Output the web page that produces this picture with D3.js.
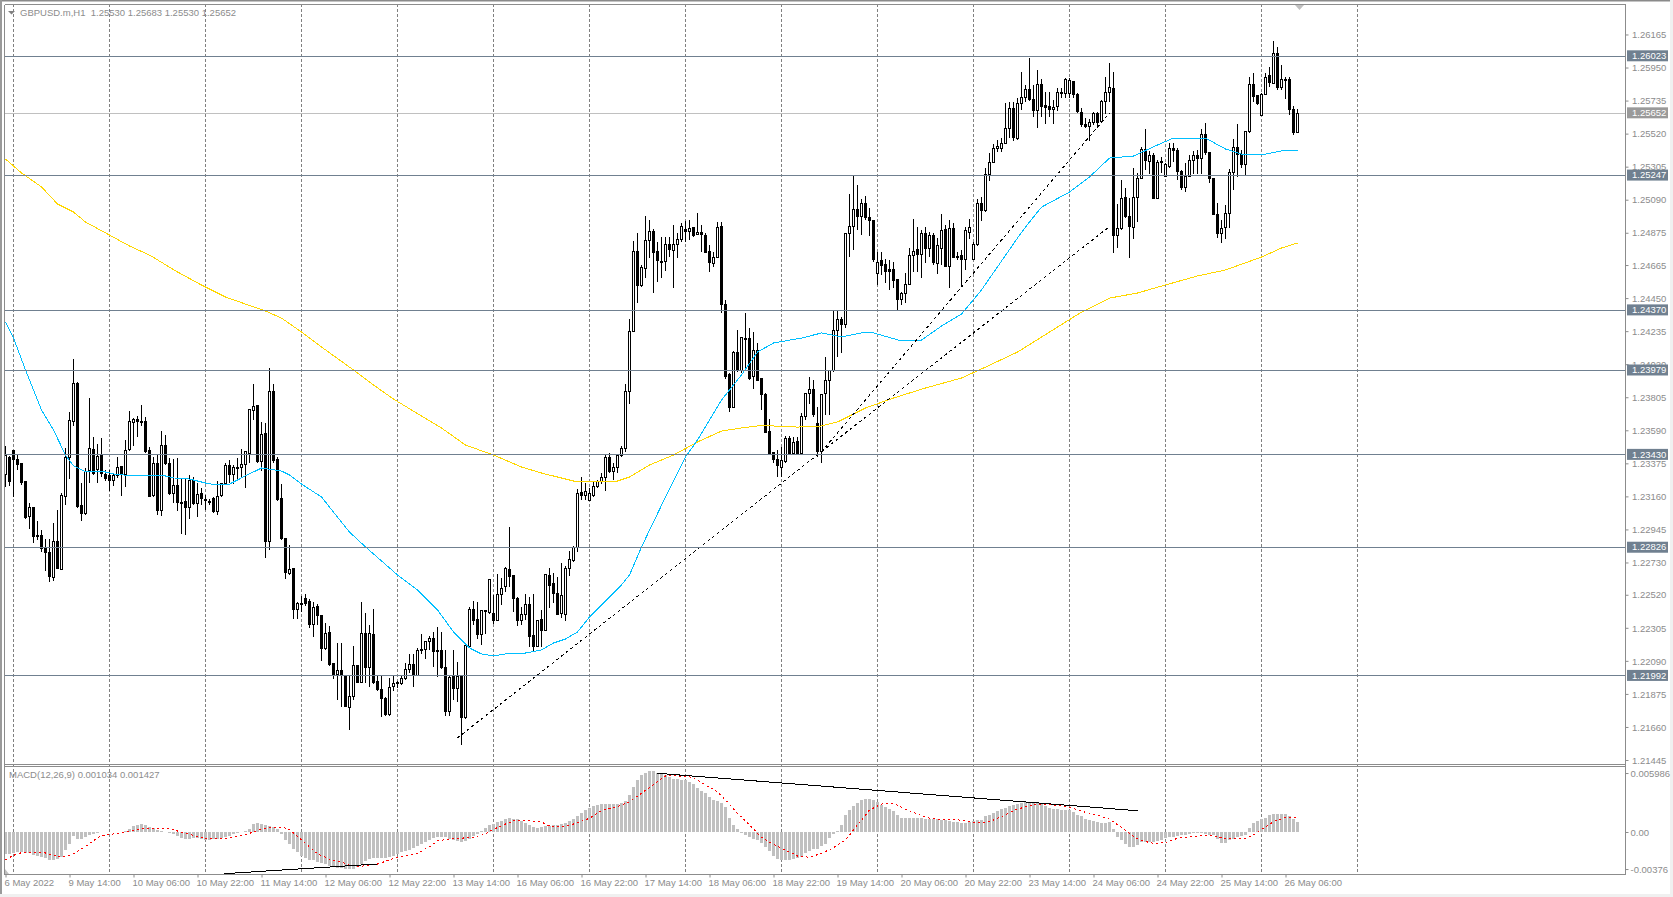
<!DOCTYPE html>
<html>
<head>
<meta charset="utf-8">
<script src="https://cdn.jsdelivr.net/npm/d3@7"></script>
<style>
  html, body { margin: 0; padding: 0; background: #fff; overflow: hidden; }
  svg { display: block; }
  text { font-family: "Liberation Sans", Arial, sans-serif; font-size: 9.5px; fill: #8c8c8c; }
</style>
</head>
<body>
<div id="chart-area"></div>
<script>
// hourly bars
var opens = [1.23304,1.23415,1.23456,1.23402,1.23372,1.23255,1.23029,1.23090,1.22903,1.22903,
1.22823,1.22797,1.22635,1.22869,1.22687,1.23159,1.23411,1.23647,1.23896,1.23103,
1.23046,1.23328,1.23467,1.23337,1.23424,1.23304,1.23294,1.23263,1.23294,1.23354,
1.23300,1.23463,1.23643,1.23662,1.23649,1.23645,1.23456,1.23163,1.23372,1.23068,
1.23489,1.23376,1.23177,1.23229,1.23122,1.23125,1.23088,1.23263,1.23111,1.23177,
1.23142,1.23129,1.23146,1.23062,1.23166,1.23242,1.23363,1.23300,1.23350,1.23350,
1.23369,1.23437,1.23719,1.23749,1.23387,1.23567,1.22867,1.23840,1.23398,1.23144,
1.22888,1.22660,1.22689,1.22422,1.22465,1.22498,1.22476,1.22325,1.22444,1.22387,
1.22171,1.22277,1.22075,1.21999,1.22030,1.21993,1.21789,1.21858,1.22058,1.21949,
1.22270,1.22049,1.22264,1.21954,1.21906,1.21848,1.21739,1.21923,1.21949,1.21941,
1.21973,1.22036,1.22069,1.21993,1.22166,1.22162,1.22216,1.22238,1.22155,1.22158,
1.22049,1.21760,1.21988,1.21908,1.21988,1.21719,1.22183,1.22426,1.22356,1.22259,
1.22415,1.22406,1.22400,1.22352,1.22519,1.22573,1.22686,1.22643,1.22497,1.22352,
1.22393,1.22458,1.22252,1.22183,1.22356,1.22287,1.22647,1.22591,1.22530,1.22400,
1.22393,1.22692,1.22742,1.22827,1.23184,1.23169,1.23132,1.23169,1.23223,1.23256,
1.23284,1.23414,1.23321,1.23349,1.23423,1.23473,1.23841,1.24232,1.24752,1.24529,
1.24643,1.24823,1.24882,1.24756,1.24691,1.24687,1.24800,1.24758,1.24800,1.24828,
1.24897,1.24882,1.24910,1.24865,1.24878,1.24860,1.24752,1.24676,1.24715,1.24919,
1.24411,1.23950,1.23737,1.24099,1.23976,1.24186,1.24188,1.23939,1.24112,1.23924,
1.23826,1.23585,1.23447,1.23401,1.23349,1.23386,1.23538,1.23436,1.23516,1.23436,
1.23679,1.23830,1.23856,1.23635,1.23451,1.23830,1.23917,1.23978,1.24242,1.24312,
1.24281,1.24871,1.24915,1.25028,1.24980,1.25067,1.24975,1.24952,1.24607,1.24692,
1.24666,1.24633,1.24633,1.24568,1.24442,1.24477,1.24540,1.24728,1.24763,1.24731,
1.24867,1.24774,1.24854,1.24676,1.24774,1.24893,1.24655,1.24904,1.24720,1.24724,
1.24702,1.24876,1.24698,1.24796,1.25067,1.25019,1.25255,1.25333,1.25424,1.25424,
1.25457,1.25554,1.25684,1.25489,1.25717,1.25754,1.25808,1.25743,1.25669,1.25841,
1.25700,1.25695,1.25674,1.25695,1.25789,1.25782,1.25778,1.25862,1.25776,1.25658,
1.25580,1.25565,1.25591,1.25652,1.25598,1.25728,1.25789,1.25815,1.24854,1.24904,
1.25103,1.24984,1.24911,1.25106,1.25229,1.25418,1.25338,1.25375,1.25099,1.25340,
1.25240,1.25305,1.25424,1.25409,1.25273,1.25169,1.25244,1.25344,1.25375,1.25359,
1.25515,1.25396,1.25229,1.24995,1.24872,1.24911,1.25002,1.25266,1.25431,1.25385,
1.25316,1.25533,1.25841,1.25765,1.25641,1.25776,1.25901,1.25847,1.26042,1.25821,
1.25873,1.25869,1.25678,1.25530];

var highs = [1.23489,1.23424,1.23456,1.23430,1.23376,1.23257,1.23120,1.23094,1.23001,1.22942,
1.22882,1.22882,1.22986,1.23072,1.23181,1.23474,1.23708,1.24055,1.23905,1.23246,
1.23343,1.23799,1.23549,1.23502,1.23539,1.23333,1.23333,1.23311,1.23415,1.23359,
1.23528,1.23716,1.23669,1.23684,1.23755,1.23675,1.23484,1.23419,1.23430,1.23586,
1.23560,1.23408,1.23402,1.23411,1.23276,1.23272,1.23302,1.23289,1.23250,1.23213,
1.23170,1.23142,1.23159,1.23257,1.23246,1.23376,1.23398,1.23365,1.23408,1.23467,
1.23458,1.23727,1.23892,1.23749,1.23647,1.23640,1.23996,1.23892,1.23419,1.23239,
1.22888,1.22845,1.22693,1.22470,1.22509,1.22524,1.22494,1.22476,1.22461,1.22390,
1.22335,1.22318,1.22075,1.22205,1.22205,1.21999,1.21993,1.22188,1.22058,1.22472,
1.22400,1.22325,1.22426,1.21989,1.21989,1.21858,1.21978,1.21989,1.21956,1.21989,
1.22075,1.22136,1.22136,1.22173,1.22266,1.22216,1.22253,1.22277,1.22309,1.22275,
1.22158,1.22000,1.22161,1.22085,1.21988,1.22194,1.22443,1.22480,1.22476,1.22415,
1.22421,1.22617,1.22519,1.22656,1.22627,1.22699,1.22963,1.22643,1.22504,1.22443,
1.22523,1.22508,1.22523,1.22356,1.22421,1.22653,1.22692,1.22664,1.22638,1.22729,
1.22708,1.22805,1.22840,1.23206,1.23288,1.23245,1.23213,1.23256,1.23267,1.23310,
1.23429,1.23440,1.23375,1.23436,1.23488,1.23891,1.24312,1.24823,1.24871,1.24665,
1.24984,1.24958,1.24897,1.24817,1.24845,1.24845,1.24849,1.24925,1.24875,1.24936,
1.24953,1.24958,1.24914,1.25001,1.24925,1.24871,1.24795,1.24752,1.24947,1.24947,
1.24437,1.23965,1.24108,1.24242,1.24193,1.24351,1.24253,1.24232,1.24156,1.23924,
1.23830,1.23661,1.23447,1.23462,1.23483,1.23553,1.23553,1.23549,1.23544,1.23700,
1.23830,1.23939,1.23917,1.23744,1.23826,1.24069,1.23978,1.24368,1.24368,1.24329,
1.24871,1.25127,1.25244,1.25186,1.25095,1.25114,1.25034,1.24952,1.24752,1.24752,
1.24705,1.24698,1.24687,1.24568,1.24492,1.24611,1.24774,1.24965,1.24915,1.24893,
1.24915,1.24882,1.24871,1.24839,1.24997,1.24926,1.24958,1.24941,1.24752,1.24763,
1.24910,1.24963,1.24817,1.25093,1.25110,1.25294,1.25392,1.25452,1.25479,1.25489,
1.25717,1.25728,1.25728,1.25749,1.25923,1.25836,1.26010,1.25836,1.25934,1.25873,
1.25793,1.25793,1.25739,1.25815,1.25815,1.25884,1.25880,1.25862,1.25782,1.25684,
1.25620,1.25613,1.25663,1.25663,1.25739,1.25886,1.25977,1.25919,1.25062,1.25218,
1.25164,1.25099,1.25294,1.25262,1.25435,1.25548,1.25409,1.25396,1.25348,1.25370,
1.25327,1.25457,1.25457,1.25424,1.25283,1.25327,1.25381,1.25409,1.25413,1.25548,
1.25591,1.25396,1.25229,1.25071,1.24958,1.25056,1.25288,1.25483,1.25583,1.25413,
1.25533,1.25890,1.25912,1.25771,1.25782,1.25912,1.25955,1.26122,1.26086,1.25966,
1.25886,1.25886,1.25700,1.25683];

var lows = [1.23220,1.23229,1.23155,1.23333,1.23235,1.23012,1.22949,1.22856,1.22877,1.22797,
1.22676,1.22602,1.22611,1.22687,1.22678,1.23105,1.23274,1.23619,1.23083,1.22997,
1.23038,1.23250,1.23300,1.23246,1.23289,1.23263,1.23198,1.23229,1.23278,1.23163,
1.23224,1.23458,1.23489,1.23549,1.23619,1.23445,1.23159,1.23159,1.23040,1.23033,
1.23365,1.23170,1.23120,1.23062,1.22914,1.22906,1.23014,1.23105,1.23023,1.23105,
1.23072,1.23105,1.23055,1.23036,1.23159,1.23235,1.23246,1.23242,1.23268,1.23289,
1.23213,1.23376,1.23658,1.23376,1.23322,1.22762,1.22812,1.23376,1.23127,1.22877,
1.22624,1.22650,1.22364,1.22364,1.22405,1.22444,1.22303,1.22242,1.22325,1.22090,
1.22162,1.22058,1.21971,1.21837,1.21793,1.21789,1.21642,1.21837,1.21945,1.21945,
1.21945,1.21923,1.21941,1.21897,1.21724,1.21733,1.21733,1.21897,1.21913,1.21934,
1.21967,1.22010,1.21917,1.21989,1.22136,1.22101,1.22158,1.22049,1.21984,1.22036,
1.21733,1.21732,1.21836,1.21825,1.21543,1.21710,1.22177,1.22324,1.22231,1.22194,
1.22265,1.22395,1.22328,1.22352,1.22454,1.22541,1.22569,1.22411,1.22320,1.22324,
1.22356,1.22183,1.22157,1.22183,1.22183,1.22287,1.22437,1.22465,1.22389,1.22372,
1.22350,1.22643,1.22734,1.22801,1.23137,1.23137,1.23132,1.23158,1.23213,1.23241,
1.23197,1.23310,1.23267,1.23310,1.23419,1.23451,1.23761,1.24232,1.24420,1.24520,
1.24578,1.24709,1.24485,1.24557,1.24578,1.24628,1.24715,1.24518,1.24708,1.24817,
1.24817,1.24828,1.24845,1.24860,1.24752,1.24741,1.24622,1.24650,1.24715,1.24355,
1.23924,1.23707,1.23733,1.23971,1.23965,1.23982,1.23917,1.23856,1.23917,1.23725,
1.23575,1.23440,1.23375,1.23288,1.23288,1.23375,1.23429,1.23427,1.23436,1.23429,
1.23657,1.23761,1.23679,1.23419,1.23375,1.23690,1.23690,1.23971,1.24069,1.24095,
1.24253,1.24715,1.24763,1.24893,1.24861,1.24958,1.24854,1.24687,1.24535,1.24601,
1.24546,1.24503,1.24514,1.24373,1.24405,1.24416,1.24535,1.24622,1.24622,1.24579,
1.24676,1.24720,1.24666,1.24607,1.24666,1.24650,1.24518,1.24709,1.24698,1.24525,
1.24633,1.24833,1.24698,1.24789,1.24954,1.25012,1.25212,1.25333,1.25403,1.25403,
1.25457,1.25489,1.25474,1.25479,1.25674,1.25728,1.25732,1.25626,1.25554,1.25626,
1.25583,1.25626,1.25583,1.25669,1.25750,1.25750,1.25750,1.25750,1.25652,1.25565,
1.25554,1.25474,1.25576,1.25559,1.25598,1.25648,1.25728,1.24746,1.24774,1.24893,
1.24969,1.24709,1.24832,1.24947,1.25229,1.25283,1.25257,1.25099,1.25099,1.25262,
1.25240,1.25294,1.25338,1.25218,1.25153,1.25138,1.25240,1.25257,1.25257,1.25257,
1.25381,1.25197,1.24991,1.24839,1.24806,1.24832,1.24904,1.25153,1.25240,1.25294,
1.25244,1.25526,1.25728,1.25706,1.25635,1.25771,1.25825,1.25843,1.25804,1.25804,
1.25743,1.25641,1.25511,1.25530];

var closes = [1.23424,1.23257,1.23402,1.23367,1.23250,1.23023,1.23090,1.22899,1.22899,1.22823,
1.22795,1.22639,1.22869,1.22693,1.23163,1.23411,1.23656,1.23892,1.23094,1.23051,
1.23322,1.23474,1.23311,1.23419,1.23311,1.23278,1.23261,1.23294,1.23350,1.23300,
1.23458,1.23645,1.23662,1.23649,1.23640,1.23450,1.23159,1.23372,1.23068,1.23489,
1.23372,1.23181,1.23229,1.23120,1.23111,1.23090,1.23261,1.23111,1.23174,1.23148,
1.23131,1.23125,1.23059,1.23159,1.23246,1.23363,1.23300,1.23350,1.23348,1.23369,
1.23450,1.23723,1.23745,1.23387,1.23560,1.22867,1.23840,1.23393,1.23137,1.22884,
1.22665,1.22687,1.22422,1.22465,1.22463,1.22463,1.22325,1.22437,1.22383,1.22171,
1.22270,1.22064,1.21999,1.22030,1.21993,1.21793,1.21858,1.22058,1.21949,1.22270,
1.22049,1.22266,1.21949,1.21906,1.21848,1.21739,1.21919,1.21941,1.21941,1.21973,
1.22036,1.22069,1.21993,1.22158,1.22158,1.22216,1.22238,1.22151,1.22151,1.22049,
1.21761,1.21983,1.21908,1.21988,1.21719,1.22190,1.22426,1.22352,1.22259,1.22415,
1.22417,1.22617,1.22352,1.22523,1.22562,1.22688,1.22638,1.22495,1.22352,1.22393,
1.22458,1.22248,1.22183,1.22350,1.22287,1.22653,1.22580,1.22530,1.22393,1.22513,
1.22692,1.22751,1.22827,1.23180,1.23167,1.23191,1.23180,1.23223,1.23256,1.23284,
1.23414,1.23319,1.23349,1.23423,1.23473,1.23841,1.24232,1.24752,1.24529,1.24648,
1.24823,1.24882,1.24745,1.24693,1.24687,1.24800,1.24763,1.24800,1.24828,1.24919,
1.24882,1.24904,1.24860,1.24878,1.24865,1.24745,1.24680,1.24715,1.24910,1.24409,
1.23939,1.23737,1.24099,1.23976,1.24193,1.24184,1.23928,1.24112,1.23917,1.23820,
1.23577,1.23440,1.23397,1.23364,1.23392,1.23538,1.23436,1.23512,1.23436,1.23679,
1.23830,1.23856,1.23690,1.23451,1.23826,1.23917,1.23978,1.24242,1.24312,1.24281,
1.24871,1.24914,1.25028,1.24980,1.25067,1.24973,1.24954,1.24698,1.24683,1.24661,
1.24622,1.24622,1.24564,1.24442,1.24481,1.24540,1.24728,1.24752,1.24731,1.24867,
1.24774,1.24854,1.24681,1.24789,1.24889,1.24655,1.24904,1.24715,1.24715,1.24702,
1.24887,1.24910,1.24796,1.25067,1.25019,1.25255,1.25333,1.25424,1.25435,1.25457,
1.25554,1.25684,1.25496,1.25717,1.25754,1.25808,1.25739,1.25669,1.25841,1.25695,
1.25691,1.25674,1.25689,1.25789,1.25782,1.25869,1.25864,1.25776,1.25663,1.25580,
1.25565,1.25593,1.25648,1.25591,1.25728,1.25789,1.25821,1.24854,1.24904,1.25099,
1.24980,1.24915,1.25106,1.25229,1.25418,1.25344,1.25375,1.25099,1.25333,1.25333,
1.25320,1.25424,1.25409,1.25273,1.25169,1.25244,1.25348,1.25375,1.25359,1.25515,
1.25396,1.25225,1.24995,1.24872,1.24904,1.25002,1.25266,1.25431,1.25387,1.25316,
1.25533,1.25841,1.25760,1.25717,1.25776,1.25886,1.25851,1.26042,1.25821,1.25869,
1.25869,1.25674,1.25526,1.25652];

// moving averages, read at these bars
var blueBars = [0,2,5,6,9,12,15,17,20,24,27,32,35,39,42,46,50,53,56,59,64,69,71,74,79,82,86,90,98,103,108,112,116,119,122,125,130,134,137,140,143,146,154,156,159,165,170,173,179,181,184,188,192,199,204,209,214,217,224,229,234,239,244,253,256,259,266,271,276,282,288,292,300,305,309,315,319,323];
var blueVals = [1.24294,1.24190,1.23982,1.23917,1.23722,1.23592,1.23429,1.23358,1.23319,1.23325,1.23306,1.23293,1.23293,1.23299,1.23280,1.23273,1.23247,1.23234,1.23240,1.23280,1.23345,1.23325,1.23299,1.23240,1.23156,1.23058,1.22928,1.22831,1.22649,1.22551,1.22421,1.22278,1.22174,1.22135,1.22122,1.22135,1.22141,1.22161,1.22206,1.22232,1.22278,1.22375,1.22584,1.22649,1.22831,1.23156,1.23416,1.23527,1.23787,1.23852,1.23950,1.24099,1.24158,1.24190,1.24223,1.24197,1.24223,1.24223,1.24171,1.24177,1.24268,1.24346,1.24503,1.24841,1.24945,1.25042,1.25140,1.25238,1.25361,1.25374,1.25446,1.25491,1.25491,1.25420,1.25387,1.25387,1.25407,1.25407];
var yellowBars = [0,4,9,13,17,20,26,31,36,43,49,55,60,65,69,74,79,87,92,97,109,115,122,129,134,142,153,156,161,167,173,179,184,188,192,198,204,208,215,222,230,239,244,253,261,269,276,283,289,298,305,314,319,323];
var yellowVals = [1.25355,1.25264,1.25173,1.25062,1.25010,1.24945,1.24860,1.24789,1.24730,1.24620,1.24535,1.24457,1.24411,1.24366,1.24320,1.24229,1.24132,1.23982,1.23885,1.23793,1.23605,1.23494,1.23429,1.23351,1.23312,1.23260,1.23260,1.23286,1.23364,1.23429,1.23514,1.23585,1.23605,1.23618,1.23618,1.23611,1.23618,1.23644,1.23735,1.23800,1.23865,1.23930,1.23989,1.24099,1.24229,1.24359,1.24450,1.24483,1.24528,1.24594,1.24633,1.24717,1.24776,1.24808];

// MACD histogram and signal
var macdHist = [-0.00220,-0.00220,-0.00213,-0.00203,-0.00206,-0.00210,-0.00217,-0.00237,-0.00247,-0.00257,
-0.00264,-0.00288,-0.00284,-0.00271,-0.00254,-0.00186,-0.00125,-0.00044,-0.00068,-0.00071,
-0.00051,-0.00034,-0.00017,-0.00007,0.00003,-0.00003,-0.00003,-0.00003,0,0.00003,
0.00010,0.00027,0.00058,0.00074,0.00085,0.00074,0.00051,0.00037,0.00020,0.00010,
0.00003,-0.00010,-0.00024,-0.00037,-0.00058,-0.00068,-0.00071,-0.00061,-0.00064,-0.00071,
-0.00085,-0.00078,-0.00071,-0.00071,-0.00061,-0.00051,-0.00044,-0.00024,-0.00010,0,
0.00010,0.00034,0.00085,0.00088,0.00078,0.00068,0.00064,0.00051,0.00027,-0.00017,
-0.00085,-0.00125,-0.00169,-0.00203,-0.00247,-0.00261,-0.00281,-0.00288,-0.00305,-0.00315,
-0.00328,-0.00342,-0.00355,-0.00362,-0.00365,-0.00372,-0.00379,-0.00379,-0.00352,-0.00325,
-0.00294,-0.00277,-0.00267,-0.00267,-0.00267,-0.00264,-0.00257,-0.00244,-0.00223,-0.00200,
-0.00190,-0.00179,-0.00159,-0.00142,-0.00122,-0.00102,-0.00078,-0.00064,-0.00054,-0.00054,
-0.00054,-0.00068,-0.00081,-0.00095,-0.00105,-0.00088,-0.00068,-0.00041,-0.00017,0.00007,
0.00037,0.00068,0.00085,0.00098,0.00112,0.00129,0.00139,0.00135,0.00129,0.00112,
0.00091,0.00068,0.00047,0.00037,0.00054,0.00061,0.00064,0.00068,0.00071,0.00078,
0.00091,0.00108,0.00129,0.00159,0.00193,0.00223,0.00244,0.00261,0.00277,0.00284,
0.00284,0.00284,0.00284,0.00288,0.00291,0.00315,0.00372,0.00457,0.00525,0.00575,
0.00602,0.00619,0.00623,0.00602,0.00589,0.00575,0.00555,0.00541,0.00538,0.00531,
0.00525,0.00508,0.00484,0.00443,0.00420,0.00396,0.00355,0.00325,0.00315,0.00298,
0.00254,0.00142,0.00074,0.00027,-0.00010,-0.00027,-0.00051,-0.00071,-0.00081,-0.00115,
-0.00149,-0.00190,-0.00244,-0.00271,-0.00281,-0.00284,-0.00284,-0.00277,-0.00264,-0.00250,
-0.00210,-0.00190,-0.00176,-0.00169,-0.00142,-0.00118,-0.00061,-0.00017,0.00014,0.00068,
0.00169,0.00223,0.00264,0.00298,0.00325,0.00338,0.00338,0.00321,0.00301,0.00274,
0.00250,0.00230,0.00217,0.00176,0.00139,0.00139,0.00139,0.00139,0.00139,0.00139,
0.00135,0.00129,0.00129,0.00129,0.00125,0.00118,0.00115,0.00105,0.00102,0.00095,
0.00095,0.00102,0.00112,0.00118,0.00122,0.00159,0.00173,0.00193,0.00217,0.00233,
0.00247,0.00261,0.00274,0.00288,0.00298,0.00305,0.00308,0.00305,0.00291,0.00281,
0.00264,0.00247,0.00237,0.00230,0.00223,0.00220,0.00220,0.00203,0.00176,0.00162,
0.00135,0.00122,0.00108,0.00102,0.00095,0.00095,0.00102,0.00034,-0.00047,-0.00081,
-0.00122,-0.00156,-0.00152,-0.00129,-0.00102,-0.00102,-0.00105,-0.00098,-0.00091,-0.00078,
-0.00061,-0.00051,-0.00051,-0.00044,-0.00034,-0.00027,-0.00020,-0.00014,-0.00007,-0.00014,
-0.00020,-0.00027,-0.00034,-0.00074,-0.00108,-0.00108,-0.00081,-0.00068,-0.00051,-0.00041,
-0.00027,0.00041,0.00088,0.00115,0.00135,0.00142,0.00169,0.00183,0.00183,0.00183,
0.00183,0.00162,0.00129,0.00103];
var signalBars = [0,2,4,7,10,12,15,17,19,21,23,25,28,31,34,37,40,43,46,49,52,55,57,60,63,66,69,71,73,75,78,81,84,86,88,90,93,96,98,103,106,108,112,117,120,122,125,127,131,134,136,139,142,146,149,153,156,159,163,165,168,171,173,175,178,180,183,186,189,192,195,198,201,204,207,210,213,216,219,222,225,228,231,234,237,240,243,246,249,252,255,258,261,264,267,270,273,276,279,282,284,287,290,293,296,299,302,305,308,310,312,314,317,320,323];
var signalVals = [-0.00281,-0.00237,-0.00210,-0.00210,-0.00213,-0.00240,-0.00254,-0.00220,-0.00173,-0.00118,-0.00058,-0.00027,-0.00017,0.00010,0.00034,0.00037,0.00041,0.00010,-0.00024,-0.00058,-0.00071,-0.00068,-0.00051,-0.00030,0.00017,0.00041,0.00051,0.00024,-0.00044,-0.00118,-0.00220,-0.00277,-0.00305,-0.00338,-0.00352,-0.00342,-0.00325,-0.00284,-0.00257,-0.00217,-0.00149,-0.00088,-0.00068,-0.00054,-0.00020,0.00027,0.00081,0.00112,0.00112,0.00102,0.00061,0.00054,0.00081,0.00139,0.00217,0.00257,0.00308,0.00393,0.00511,0.00569,0.00569,0.00562,0.00528,0.00477,0.00409,0.00325,0.00190,0.00071,-0.00054,-0.00125,-0.00183,-0.00244,-0.00257,-0.00217,-0.00159,-0.00081,0.00071,0.00223,0.00284,0.00291,0.00230,0.00183,0.00139,0.00129,0.00129,0.00112,0.00095,0.00105,0.00156,0.00217,0.00257,0.00281,0.00281,0.00264,0.00237,0.00200,0.00173,0.00129,0.00047,-0.00047,-0.00088,-0.00115,-0.00108,-0.00064,-0.00047,-0.00037,-0.00041,-0.00064,-0.00068,-0.00064,-0.00030,0.00027,0.00105,0.00146,0.00143];

// horizontal levels and tick labels
var levels = [1.26023, 1.25247, 1.24370, 1.23979, 1.23430, 1.22826, 1.21992];
var lastPrice = 1.25652;
var priceTicks = [1.26165,1.25950,1.25735,1.25520,1.25305,1.25090,1.24875,1.24665,1.24450,1.24235,1.24020,1.23805,1.23590,1.23375,1.23160,1.22945,1.22730,1.22520,1.22305,1.22090,1.21875,1.21660,1.21445];
var macdTicks = [0.005986, 0, -0.00376];
var macdTickLabels = ["0.005986", "0.00", "-0.00376"];
var gridBars = [2,26,50,74,98,122,146,170,194,218,242,266,290,314,338];
var timeBars = [0,16,32,48,64,80,96,112,128,144,160,176,192,208,224,240,256,272,288,304,320];
var timeLabels = ["6 May 2022","9 May 14:00","10 May 06:00","10 May 22:00","11 May 14:00","12 May 06:00","12 May 22:00","13 May 14:00","16 May 06:00","16 May 22:00","17 May 14:00","18 May 06:00","18 May 22:00","19 May 14:00","20 May 06:00","20 May 22:00","23 May 14:00","24 May 06:00","24 May 22:00","25 May 14:00","26 May 06:00"];

// trend lines: [bar, value, bar, value]
var priceTrends = [[113,1.21589,204,1.23451],[204,1.23451,276,1.25654],[204,1.23451,276,1.24915]];
var macdTrends = [[54.7,-0.00423,92.9,-0.00325],[163,0.00596,283,0.00216]];

var width = 1673, height = 897;
var plotLeft = 5, plotRight = 1625.5;

var svg = d3.select("#chart-area")
  .append("svg")
    .attr("width", width)
    .attr("height", height);

svg.append("rect").attr("width", width).attr("height", height).attr("fill", "#fff");

var x = d3.scaleLinear().domain([0, 323]).range([5.5, 1297.5]);
var y = d3.scaleLinear().domain([1.21419, 1.26360]).range([764, 4.5]);
var yMacd = d3.scaleLinear().domain([-0.004264, 0.0067]).range([874, 766]);

var crisp = "crispEdges";

// window edges
svg.append("rect").attr("x", 0).attr("y", 0).attr("width", width).attr("height", 1.5).attr("fill", "#8a8a8a");
svg.append("rect").attr("x", 0).attr("y", 0).attr("width", 2).attr("height", height).attr("fill", "#9a9a9a");
svg.append("rect").attr("x", 1670).attr("y", 0).attr("width", 3).attr("height", height).attr("fill", "#f0f0f0");
svg.append("rect").attr("x", 0).attr("y", 894).attr("width", width).attr("height", 3).attr("fill", "#f0f0f0");

// vertical grid runs through both panels
svg.append("g").selectAll("line")
  .data(gridBars)
  .enter().append("line")
    .attr("x1", function(d) { return x(d); })
    .attr("x2", function(d) { return x(d); })
    .attr("y1", 4)
    .attr("y2", 874)
    .attr("stroke", "#808080")
    .attr("stroke-dasharray", "3,2")
    .attr("shape-rendering", crisp);

// macd histogram
svg.append("g").selectAll("rect")
  .data(macdHist)
  .enter().append("rect")
    .attr("x", function(d, i) { return x(i) - 1.5; })
    .attr("width", 3)
    .attr("y", function(d) { return yMacd(Math.max(d, 0)); })
    .attr("height", function(d) { return Math.abs(yMacd(d) - yMacd(0)); })
    .attr("fill", "#c0c0c0")
    .attr("shape-rendering", crisp);

// signal line
var signalLine = d3.line()
  .x(function(d) { return x(d); })
  .y(function(d, i) { return yMacd(signalVals[i]); });

svg.append("path")
  .attr("d", signalLine(signalBars))
  .attr("fill", "none")
  .attr("stroke", "#ff0000")
  .attr("stroke-dasharray", "2,3")
  .attr("shape-rendering", crisp);

svg.append("g").selectAll("line")
  .data(macdTrends)
  .enter().append("line")
    .attr("x1", function(d) { return x(d[0]); })
    .attr("y1", function(d) { return yMacd(d[1]); })
    .attr("x2", function(d) { return x(d[2]); })
    .attr("y2", function(d) { return yMacd(d[3]); })
    .attr("stroke", "#000")
    .attr("shape-rendering", crisp);

// current price line sits under the bars
svg.append("line")
  .attr("x1", plotLeft)
  .attr("x2", plotRight)
  .attr("y1", y(lastPrice))
  .attr("y2", y(lastPrice))
  .attr("stroke", "#c0c0c0")
  .attr("shape-rendering", crisp);

// candles
var bars = d3.range(opens.length);

svg.append("g").selectAll("line")
  .data(bars)
  .enter().append("line")
    .attr("x1", function(d) { return x(d); })
    .attr("x2", function(d) { return x(d); })
    .attr("y1", function(d) { return y(highs[d]); })
    .attr("y2", function(d) { return y(lows[d]); })
    .attr("stroke", "#000")
    .attr("shape-rendering", crisp);

svg.append("g").selectAll("rect")
  .data(bars)
  .enter().append("rect")
    .attr("x", function(d) { return x(d) - 1; })
    .attr("width", 2)
    .attr("y", function(d) { return y(Math.max(opens[d], closes[d])); })
    .attr("height", function(d) { return Math.max(1, Math.abs(y(opens[d]) - y(closes[d]))); })
    .attr("fill", function(d) { return closes[d] > opens[d] ? "#fff" : "#000"; })
    .attr("stroke", "#000")
    .attr("shape-rendering", crisp);

// moving averages
function maPath(barList, valList, color) {
  var line = d3.line()
    .x(function(d) { return x(d); })
    .y(function(d, i) { return y(valList[i]); });
  svg.append("path")
    .attr("d", line(barList))
    .attr("fill", "none")
    .attr("stroke", color)
    .attr("stroke-width", 1)
    .attr("shape-rendering", crisp);
}
maPath(yellowBars, yellowVals, "#ffd700");
maPath(blueBars, blueVals, "#00bfff");

// dashed trend lines
svg.append("g").selectAll("line")
  .data(priceTrends)
  .enter().append("line")
    .attr("x1", function(d) { return x(d[0]); })
    .attr("y1", function(d) { return y(d[1]); })
    .attr("x2", function(d) { return x(d[2]); })
    .attr("y2", function(d) { return y(d[3]); })
    .attr("stroke", "#000")
    .attr("stroke-dasharray", "3,3")
    .attr("shape-rendering", crisp);

// levels go over the bars
svg.append("g").selectAll("line")
  .data(levels)
  .enter().append("line")
    .attr("x1", plotLeft)
    .attr("x2", plotRight)
    .attr("y1", function(d) { return y(d); })
    .attr("y2", function(d) { return y(d); })
    .attr("stroke", "#708090")
    .attr("shape-rendering", crisp);

// panel frames
function frame(x1, y1, x2, y2) {
  svg.append("line")
    .attr("x1", x1).attr("y1", y1).attr("x2", x2).attr("y2", y2)
    .attr("stroke", "#8c8c8c")
    .attr("shape-rendering", crisp);
}
frame(plotLeft - 0.5, 4.5, plotRight, 4.5);
frame(plotLeft - 0.5, 4.5, plotLeft - 0.5, 874.5);
frame(plotLeft - 0.5, 764.5, plotRight, 764.5);
frame(plotLeft - 0.5, 766.5, plotRight, 766.5);
frame(plotLeft - 0.5, 874.5, plotRight, 874.5);
frame(plotRight, 4.5, plotRight, 874.5);

// axes
var priceAxis = svg.append("g")
  .attr("transform", "translate(" + plotRight + ",0)")
  .call(d3.axisRight(y).tickValues(priceTicks).tickFormat(d3.format(".5f")).tickSize(3));
priceAxis.select(".domain").remove();
priceAxis.selectAll("line").attr("stroke", "#8c8c8c");
priceAxis.selectAll("text").attr("x", 6.5).attr("dy", "0.34em").attr("fill", null);

var macdAxis = svg.append("g")
  .attr("transform", "translate(" + plotRight + ",0)")
  .call(d3.axisRight(yMacd).tickValues(macdTicks)
    .tickFormat(function(d, i) { return macdTickLabels[i]; }).tickSize(3));
macdAxis.select(".domain").remove();
macdAxis.selectAll("line").attr("stroke", "#8c8c8c");
macdAxis.selectAll("text").attr("x", 5).attr("dy", "0.34em").attr("fill", null);

var timeAxis = svg.append("g")
  .attr("transform", "translate(0,874.5)")
  .call(d3.axisBottom(x).tickValues(timeBars)
    .tickFormat(function(d, i) { return timeLabels[i]; }).tickSize(3));
timeAxis.select(".domain").remove();
timeAxis.selectAll("line").attr("stroke", "#8c8c8c");
timeAxis.selectAll("text")
  .attr("text-anchor", "start")
  .attr("x", -1.5)
  .attr("y", 5)
  .attr("fill", null);

// price tags on the scale
function priceTag(value, color) {
  var g = svg.append("g");
  g.append("rect")
    .attr("x", 1627)
    .attr("y", y(value) - 6)
    .attr("width", 41)
    .attr("height", 11)
    .attr("fill", color);
  g.append("text")
    .attr("x", 1632)
    .attr("y", y(value) - 0.5)
    .attr("dy", "0.34em")
    .style("fill", "#fff")
    .text(d3.format(".5f")(value));
}
levels.forEach(function(d) { priceTag(d, "#708090"); });
priceTag(lastPrice, "#9a9a9a");

// header and indicator captions
svg.append("text")
  .attr("x", 20)
  .attr("y", 12.5)
  .attr("dy", "0.34em")
  .attr("xml:space", "preserve")
  .text("GBPUSD.m,H1  1.25530 1.25683 1.25530 1.25652");

svg.append("text")
  .attr("x", 9)
  .attr("y", 774.5)
  .attr("dy", "0.34em")
  .text("MACD(12,26,9) 0.001034 0.001427");

// small markers
svg.append("path").attr("d", "M8,11L15,11L11.5,14.5Z").attr("fill", "#808080");
svg.append("path").attr("d", "M1295,5L1304,5L1299.5,10Z").attr("fill", "#c0c0c0");
svg.append("path").attr("d", "M5,869L5,874L9,874Z").attr("fill", "#c0c0c0");
</script>
</body>
</html>
